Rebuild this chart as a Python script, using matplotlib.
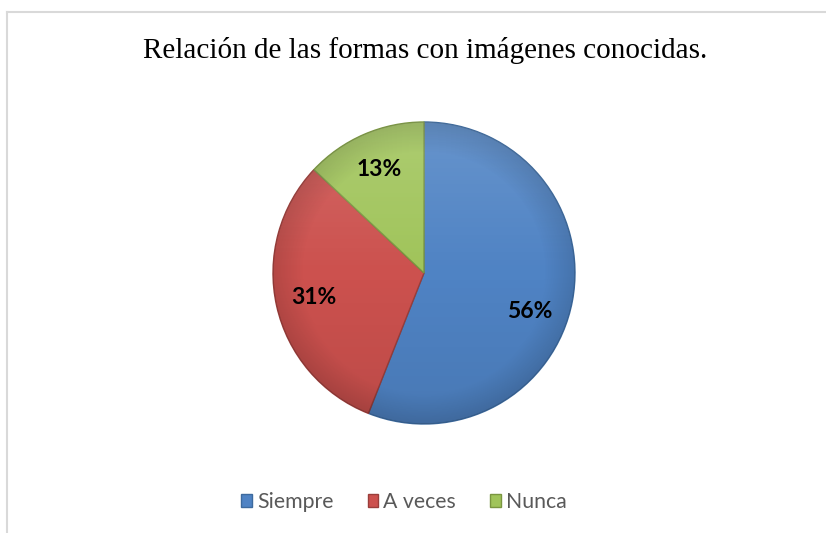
import numpy as np
import matplotlib
matplotlib.use("Agg")
import matplotlib.pyplot as plt
import matplotlib.transforms as mtransforms
from matplotlib.patches import Patch, Circle
from matplotlib.lines import Line2D

title = "Relación de las formas con imágenes conocidas."
categories = ["Siempre", "A veces", "Nunca"]
values = [56, 31, 13]
colors = ["#4F83C4", "#CC514E", "#A0C45A"]
edge_colors = ["#3D6A9E", "#9A3E3B", "#7A9640"]

W, H = 826, 533
fig = plt.figure(figsize=(W / 100, H / 100), dpi=100)
fig.patch.set_facecolor("white")

# outer frame
fig.add_artist(Line2D([7.5 / W, 7.5 / W], [0, 1 - 11.5 / H], color="#D9D9D9", lw=1.5, transform=fig.transFigure))
fig.add_artist(Line2D([7.5 / W, 1], [1 - 11.5 / H, 1 - 11.5 / H], color="#D9D9D9", lw=1.5, transform=fig.transFigure))

fig.text(425 / W, 1 - 51 / H, title, ha="center", va="center",
         fontsize=21, family="Liberation Serif", color="black")

cx, cy, r = 424, H - 273, 151
ax = fig.add_axes([(cx - r) / W, (cy - r) / H, 2 * r / W, 2 * r / H])

wedges, texts, autotexts = ax.pie(
    values, colors=colors, startangle=90, counterclock=False, radius=1,
    autopct=lambda p: f"{p:.0f}%", pctdistance=0.75,
    wedgeprops=dict(linewidth=1.0),
    textprops=dict(fontsize=16.5, fontweight="bold", family="Lato", color="black"),
)
for w, ec in zip(wedges, edge_colors):
    w.set_edgecolor(ec)
ax.set_xlim(-1, 1)
ax.set_ylim(-1, 1)
ax.set_aspect("equal")
ax.axis("off")

# the largest label sits a little lower in the reference
autotexts[0].set_transform(mtransforms.offset_copy(ax.transData, fig=fig, x=-6, y=-17, units="dots"))

# subtle shading overlays (light top, darker rim)
n = 400
yy, xx = np.mgrid[-1:1:n * 1j, -1:1:n * 1j]
rr = np.sqrt(xx ** 2 + yy ** 2)
light = np.zeros((n, n, 4))
light[..., :3] = 1.0
light[..., 3] = np.clip(0.14 * yy, 0, None)
dark = np.zeros((n, n, 4))
dark[..., 3] = np.clip((rr - 0.80) * 0.6, 0, 0.12) + np.clip(-0.08 * yy, 0, None)
for img in (light, dark):
    im = ax.imshow(img, extent=[-1, 1, -1, 1], origin="lower", zorder=3, interpolation="bilinear")
    im.set_clip_path(Circle((0, 0), 1, transform=ax.transData))
for tt in autotexts:
    tt.set_zorder(5)

handles = [Patch(facecolor=c, edgecolor=e, label=l) for c, e, l in zip(colors, edge_colors, categories)]
leg = fig.legend(handles=handles, loc="center", bbox_to_anchor=(404 / W, 1 - 502 / H), ncol=3,
                 frameon=False, handlelength=0.5, handleheight=0.5, handletextpad=0.25,
                 columnspacing=1.6, prop=dict(family="Lato", size=15.3))
for txt in leg.get_texts():
    txt.set_color("#595959")

fig.savefig("out.png", dpi=100, facecolor="white")
